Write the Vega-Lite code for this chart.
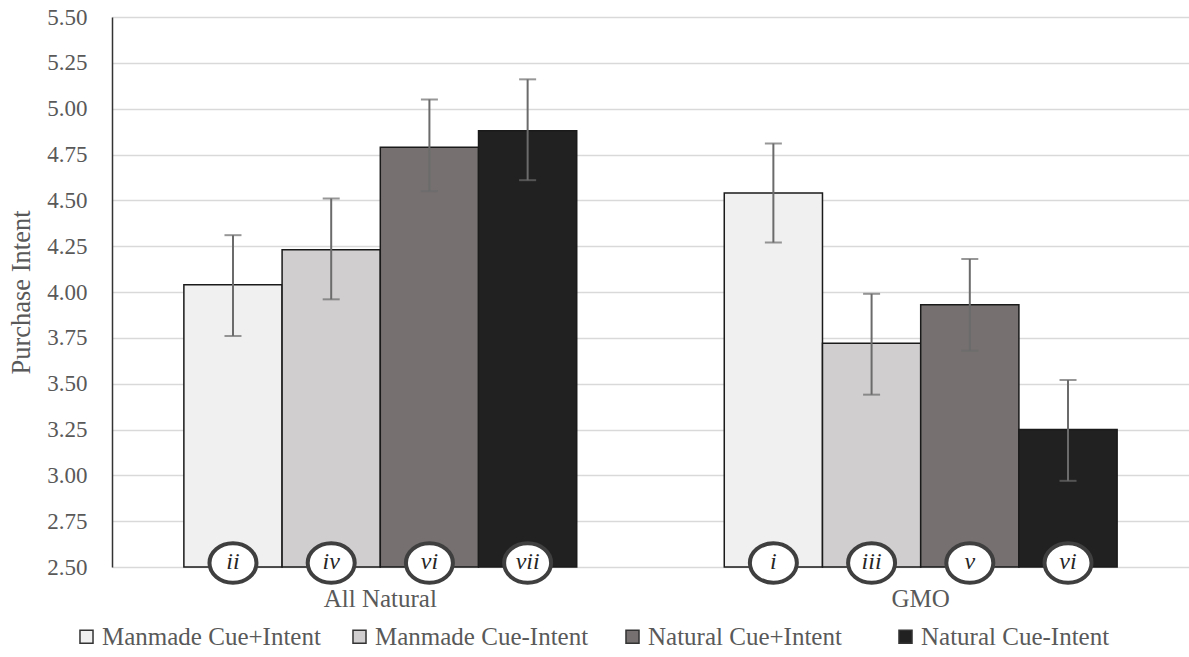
{
  "$schema": "https://vega.github.io/schema/vega-lite/v6.json",
  "width": 1077,
  "height": 550,
  "autosize": {"type": "none"},
  "padding": {"left": 112, "top": 17, "right": 0, "bottom": 90},
  "background": "white",
  "config": {
    "view": {"stroke": null},
    "font": "Liberation Serif",
    "axis": {"labelFont": "Liberation Serif", "titleFont": "Liberation Serif", "labelColor": "#595959", "titleColor": "#595959", "titleFontWeight": "normal"},
    "legend": {"labelFont": "Liberation Serif", "labelColor": "#595959"}
  },
  "data": {
    "values": [
      {"group": "All Natural", "series": "Manmade Cue+Intent", "value": 4.04, "lo": 3.76, "hi": 4.31, "label": "ii"},
      {"group": "All Natural", "series": "Manmade Cue-Intent", "value": 4.23, "lo": 3.96, "hi": 4.51, "label": "iv"},
      {"group": "All Natural", "series": "Natural Cue+Intent", "value": 4.79, "lo": 4.55, "hi": 5.05, "label": "vi"},
      {"group": "All Natural", "series": "Natural Cue-Intent", "value": 4.88, "lo": 4.61, "hi": 5.16, "label": "vii"},
      {"group": "GMO", "series": "Manmade Cue+Intent", "value": 4.54, "lo": 4.27, "hi": 4.81, "label": "i"},
      {"group": "GMO", "series": "Manmade Cue-Intent", "value": 3.72, "lo": 3.44, "hi": 3.99, "label": "iii"},
      {"group": "GMO", "series": "Natural Cue+Intent", "value": 3.93, "lo": 3.68, "hi": 4.18, "label": "v"},
      {"group": "GMO", "series": "Natural Cue-Intent", "value": 3.25, "lo": 2.97, "hi": 3.52, "label": "vi"}
    ]
  },
  "encoding": {
    "x": {
      "field": "group", "type": "nominal", "sort": ["All Natural", "GMO"],
      "scale": {"paddingInner": 0.273, "paddingOuter": 0.133},
      "axis": {"title": null, "labelAngle": 0, "domain": false, "ticks": false, "labelFontSize": 25, "labelPadding": 19, "grid": false}
    },
    "xOffset": {
      "field": "series", "type": "nominal",
      "sort": ["Manmade Cue+Intent", "Manmade Cue-Intent", "Natural Cue+Intent", "Natural Cue-Intent"],
      "scale": {"paddingInner": 0, "paddingOuter": 0}
    }
  },
  "layer": [
    {
      "mark": {"type": "bar", "stroke": "#1a1a1a", "strokeWidth": 1.5},
      "encoding": {
        "y": {
          "field": "value", "type": "quantitative",
          "scale": {"domain": [2.5, 5.5], "zero": false, "nice": false},
          "axis": {
            "title": "Purchase Intent", "titleFontSize": 26.5, "titlePadding": 11,
            "values": [2.5, 2.75, 3, 3.25, 3.5, 3.75, 4, 4.25, 4.5, 4.75, 5, 5.25, 5.5],
            "format": ".2f", "labelFontSize": 23, "labelPadding": 25, "ticks": false,
            "domain": true, "domainColor": "#333333", "domainWidth": 1.5,
            "grid": true, "gridColor": "#d9d9d9", "gridWidth": 1.5
          }
        },
        "y2": {"datum": 2.5},
        "color": {
          "field": "series", "type": "nominal",
          "sort": ["Manmade Cue+Intent", "Manmade Cue-Intent", "Natural Cue+Intent", "Natural Cue-Intent"],
          "scale": {"range": ["#f0f0f0", "#d0cece", "#767070", "#212121"]},
          "legend": {
            "title": null, "orient": "none", "direction": "horizontal", "columns": 4,
            "gridAlign": "all",
            "legendX": -38, "legendY": 607, "columnPadding": 26,
            "symbolType": "square", "symbolSize": 170, "symbolStrokeColor": "#333333", "symbolStrokeWidth": 1.5,
            "labelFontSize": 25, "labelOffset": 3, "labelLimit": 400
          }
        }
      }
    },
    {
      "mark": {"type": "rule", "color": "#6b6b6b", "strokeWidth": 2},
      "encoding": {
        "y": {"field": "lo", "type": "quantitative"},
        "y2": {"field": "hi"}
      }
    },
    {
      "mark": {"type": "tick", "color": "#6b6b6b", "thickness": 2, "size": 17},
      "encoding": {"y": {"field": "lo", "type": "quantitative"}}
    },
    {
      "mark": {"type": "tick", "color": "#6b6b6b", "thickness": 2, "size": 17},
      "encoding": {"y": {"field": "hi", "type": "quantitative"}}
    },
    {
      "mark": {
        "type": "point", "filled": true, "fill": "white", "opacity": 1, "fillOpacity": 1,
        "stroke": "#3f3f3f", "strokeWidth": 4, "strokeOpacity": 1,
        "shape": "M -1 0 A 1 0.84 0 1 0 1 0 A 1 0.84 0 1 0 -1 0 Z",
        "size": 2209, "yOffset": -4
      },
      "encoding": {"y": {"datum": 2.5}}
    },
    {
      "mark": {"type": "text", "font": "Liberation Serif", "fontStyle": "italic", "fontSize": 24, "color": "#262626", "baseline": "middle", "yOffset": -5},
      "encoding": {"y": {"datum": 2.5}, "text": {"field": "label"}}
    }
  ]
}
